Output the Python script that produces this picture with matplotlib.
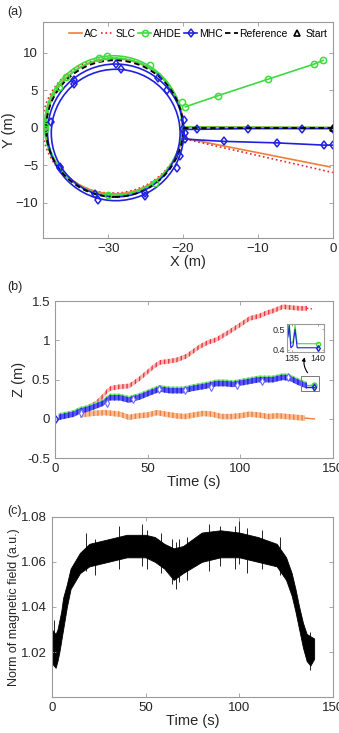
import numpy as np
import matplotlib.pyplot as plt
from matplotlib.patches import Ellipse, Rectangle

plt.rcParams['font.family'] = ['Liberation Sans', 'DejaVu Sans']

C_AC = '#EE7F3A'
C_SLC = '#E8282E'
C_AHDE = '#3DDC3D'
C_MHC = '#2020E0'
C_REF = 'black'
REF_DASH = (0, (3, 2))

## ================== (a) trajectories ================== ##
# loops read from the picture : (centre x, centre y, width, height)
ref_loops = [(-29.15, -0.1, 18.3, 18.2)]
ac_loops = [(-29.2, 0.2, 18.4, 18.0)]
slc_loops = [(-29.4, 0.3, 18.8, 18.0)]
ahde_loops = [(-29.3, 0.3, 18.4, 18.6), (-29.2, 0.15, 18.1, 18.3)]
mhc_loops = [(-29.0, -0.6, 18.2, 18.2), (-29.0, -0.7, 17.2, 17.0)]

# straight legs (out from start, back to the end)
ref_out_x = [0, -20]
ref_out_y = [0, 0]
ac_out_x = [0, -20]
ac_out_y = [0.05, 0.15]
ac_back_x = [-19.7, -0.4]
ac_back_y = [-1.4, -5.2]
slc_back_x = [-19.7, 0]
slc_back_y = [-1.5, -5.95]
ahde_out_x = [0, -20]
ahde_out_y = [0.05, 0.1]
ahde_back_x = [-19.7, -15.3, -8.6, -2.5, -1.3]
ahde_back_y = [2.8, 4.3, 6.5, 8.5, 9.0]
mhc_out_x = [0, -4.1, -11.3, -18.2, -20]
mhc_out_y = [-0.1, -0.1, -0.1, -0.2, -0.2]
mhc_back_x = [-19.7, -14.6, -7.5, -1.2, 0.0]
mhc_back_y = [-1.5, -1.8, -2.0, -2.3, -2.3]

# markers sitting on the loops
ahde_mk_x = [-38.4, -38.4, -36.6, -35.6, -31.2, -30.2, -24.4, -20.1, -30.0, -23.7]
ahde_mk_y = [0.2, -0.2, 5.5, 6.8, 9.3, 9.6, 8.4, 3.4, -8.9, -7.3]
mhc_mk_x = [-37.7, -34.6, -34.6, -28.9, -28.3, -23.4, -22.2, -36.5, -36.4, -31.7,
            -31.3, -25.1, -25.1, -20.8, -20.4, -19.9, -19.7]
mhc_mk_y = [0.8, 6.4, 5.8, 8.5, 7.8, 6.6, 5.1, -5.4, -5.2, -8.8,
            -9.6, -8.7, -9.1, -5.4, -3.8, 1.1, -0.7]

## ================== (b) altitude ================== ##
t_slc = [15, 17, 22, 26, 28, 30, 35, 40, 45, 49, 53, 56.5, 60, 65.5, 71, 78, 83, 87,
         92, 96, 100, 105, 110, 114, 118, 123, 127, 132, 136]
z_slc = [0.1, 0.14, 0.2, 0.29, 0.35, 0.39, 0.41, 0.42, 0.5, 0.58, 0.66, 0.72, 0.73,
         0.75, 0.8, 0.92, 0.98, 1.01, 1.08, 1.14, 1.2, 1.28, 1.31, 1.35, 1.38, 1.43,
         1.42, 1.41, 1.41]
t_slc_tail = [136, 140]
z_slc_tail = [1.41, 1.40]

t_mhc = [2, 6, 10, 13.5, 17, 20.6, 26, 29.6, 35, 40, 45.8, 51, 56.5, 62, 69, 74.5,
         81.7, 87, 92, 96, 103, 110, 117.6, 123, 126.6, 130, 133.8, 136]
z_mhc = [0.02, 0.04, 0.06, 0.1, 0.12, 0.15, 0.2, 0.27, 0.27, 0.24, 0.28, 0.33, 0.38,
         0.36, 0.36, 0.39, 0.42, 0.45, 0.45, 0.44, 0.47, 0.5, 0.5, 0.53, 0.52, 0.48,
         0.44, 0.42]
z_ahde_off = 0.018
t_mhc_mk = [14, 28, 42, 56, 70, 84, 98, 112, 126]
z_mhc_mk = [0.08, 0.2, 0.26, 0.38, 0.37, 0.41, 0.43, 0.48, 0.54]

t_ac = [13.5, 20, 27, 35, 40, 45, 50, 55, 60, 65, 70, 75, 80, 85, 90, 95, 100, 105,
        110, 115, 120, 125, 130, 135]
z_ac = [0.05, 0.07, 0.08, 0.06, 0.02, 0.04, 0.05, 0.08, 0.06, 0.04, 0.03, 0.05, 0.07,
        0.06, 0.03, 0.03, 0.04, 0.06, 0.05, 0.03, 0.04, 0.03, 0.02, 0.01]
t_ac_tail = [135, 140]
z_ac_tail = [0.01, 0.0]

# zoom window 134-141 s
t_zoom_b = [134.0, 134.3, 134.5, 134.8, 135.2, 135.6, 136.0, 136.4, 140.0]
z_zoom_b = [0.44, 0.47, 0.52, 0.41, 0.42, 0.50, 0.41, 0.41, 0.41]
t_zoom_g = [134.0, 134.3, 134.5, 134.8, 135.2, 135.6, 136.0, 136.4, 140.0]
z_zoom_g = [0.46, 0.49, 0.53, 0.43, 0.44, 0.52, 0.43, 0.43, 0.43]

## ================== (c) magnetic norm ================== ##
t_mag = [0, 2, 3, 4, 5, 6, 8, 10, 15, 20, 30, 40, 50, 55, 60, 65, 70, 80, 90, 100,
         110, 120, 125, 128, 130, 132, 134, 136, 138, 140]
mag_hi = [1.030, 1.028, 1.030, 1.034, 1.038, 1.044, 1.050, 1.057, 1.064, 1.068, 1.070,
          1.072, 1.072, 1.071, 1.068, 1.066, 1.067, 1.073, 1.074, 1.073, 1.071, 1.068,
          1.062, 1.055, 1.048, 1.040, 1.033, 1.028, 1.027, 1.026]
mag_lo = [1.015, 1.013, 1.016, 1.020, 1.025, 1.030, 1.040, 1.048, 1.055, 1.058, 1.060,
          1.062, 1.062, 1.060, 1.057, 1.052, 1.055, 1.060, 1.062, 1.062, 1.060, 1.058,
          1.052, 1.045, 1.038, 1.030, 1.022, 1.016, 1.014, 1.017]
spike_t = [1, 18, 23, 36, 48, 51, 58, 64, 66, 68, 72, 84, 90, 98, 100, 104, 112, 122, 138]
spike_lo = [1.016, 1.056, 1.054, 1.057, 1.058, 1.057, 1.055, 1.050, 1.048, 1.051,
            1.052, 1.056, 1.058, 1.057, 1.059, 1.055, 1.057, 1.054, 1.012]
spike_hi = [1.034, 1.073, 1.070, 1.076, 1.077, 1.074, 1.073, 1.070, 1.069, 1.070,
            1.071, 1.077, 1.076, 1.076, 1.078, 1.075, 1.074, 1.071, 1.029]


def matlab_axes(ax):
    for s in ax.spines.values():
        s.set_color('#9a9a9a')
        s.set_linewidth(0.8)
    ax.tick_params(direction='in', length=3, width=0.6, top=True, right=True,
                   colors='#9a9a9a', labelcolor='#262626', labelsize=9.5)


fig = plt.figure(figsize=(3.39, 7.33), dpi=100)

# ---------- (a)
ax = fig.add_axes([0.127, 0.675, 0.855, 0.295])
for cx, cy, w, h in slc_loops:
    ax.add_patch(Ellipse((cx, cy), w, h, fill=False, ec=C_SLC, ls=':', lw=1.2))
for cx, cy, w, h in ac_loops:
    ax.add_patch(Ellipse((cx, cy), w, h, fill=False, ec=C_AC, lw=1.2))
for cx, cy, w, h in ahde_loops:
    ax.add_patch(Ellipse((cx, cy), w, h, fill=False, ec=C_AHDE, lw=1.2))
for cx, cy, w, h in mhc_loops:
    ax.add_patch(Ellipse((cx, cy), w, h, fill=False, ec=C_MHC, lw=1.2))
for cx, cy, w, h in ref_loops:
    ax.add_patch(Ellipse((cx, cy), w, h, fill=False, ec=C_REF, ls=REF_DASH, lw=1.3))

ax.plot(ac_out_x, ac_out_y, color=C_AC, lw=1.2)
ax.plot(ahde_out_x, ahde_out_y, color=C_AHDE, lw=1.2)
ax.plot(ac_back_x, ac_back_y, color=C_AC, lw=1.2, label='AC')
ax.plot(slc_back_x, slc_back_y, color=C_SLC, ls=':', lw=1.2, label='SLC')
ax.plot(ahde_back_x, ahde_back_y, color=C_AHDE, lw=1.2, marker='o', ms=4.5,
        mfc='none', mew=1.1, label='AHDE')
ax.plot(ahde_mk_x, ahde_mk_y, ls='none', marker='o', ms=4.5, mfc='none', mec=C_AHDE, mew=1.1)
ax.plot(mhc_out_x, mhc_out_y, color=C_MHC, lw=1.2, marker='d', ms=4.5,
        mfc='none', mew=1.1, label='MHC')
ax.plot(mhc_back_x, mhc_back_y, color=C_MHC, lw=1.2, marker='d', ms=4.5, mfc='none', mew=1.1)
ax.plot([-20, -19.7], [-0.2, -1.5], color=C_MHC, lw=1.2)
ax.plot(mhc_mk_x, mhc_mk_y, ls='none', marker='d', ms=4.5, mfc='none', mec=C_MHC, mew=1.1)
ax.plot(ref_out_x, ref_out_y, color=C_REF, ls=REF_DASH, lw=1.3, label='Reference')
ax.plot([0], [0], ls='none', marker='^', ms=5, mfc='none', mec='black', mew=1.2, label='Start')

ax.set_xlim(-38.7, 0)
ax.set_ylim(-14.7, 14.1)
ax.set_xticks([-30, -20, -10, 0])
ax.set_yticks([-10, -5, 0, 5, 10])
ax.set_xlabel('X (m)', fontsize=10.5, labelpad=0, color='#262626')
ax.set_ylabel('Y (m)', fontsize=10.5, labelpad=0, color='#262626')
matlab_axes(ax)
ax.legend(loc='upper center', ncol=6, frameon=False, fontsize=7.5, handlelength=1.25,
          handletextpad=0.15, columnspacing=0.25, borderaxespad=0.25,
          bbox_to_anchor=(0.535, 1.0))
fig.text(0.02, 0.983, '(a)', fontsize=9, va='center', color='#262626')

# ---------- (b)
ax = fig.add_axes([0.162, 0.375, 0.82, 0.214])
hw = 0.03
ax.fill_between(t_slc, np.array(z_slc) - hw, np.array(z_slc) + hw, fc='#F7B0B0',
                ec=C_SLC, hatch='||||', lw=0, alpha=0.9)
ax.plot(t_slc_tail, z_slc_tail, color=C_SLC, ls=':', lw=1.0)
ax.fill_between(t_ac, np.array(z_ac) - 0.035, np.array(z_ac) + 0.035, fc='#F7C09A',
                ec=C_AC, hatch='||||', lw=0)
ax.plot(t_ac_tail, z_ac_tail, color=C_AC, lw=1.0)
zg = np.array(z_mhc) + z_ahde_off
ax.fill_between(t_mhc, zg - 0.035, zg + 0.035, fc='#8FE88F', ec=C_AHDE, hatch='||||', lw=0)
ax.fill_between(t_mhc, np.array(z_mhc) - 0.035, np.array(z_mhc) + 0.035, fc='#5A5AF0',
                ec=C_MHC, hatch='||||', lw=0)
ax.plot(t_mhc_mk, z_mhc_mk, ls='none', marker='d', ms=4, mfc='white', mec='#6a6aff', mew=0.8)
ax.plot([0], [0], ls='none', marker='d', ms=4.5, mfc='none', mec=C_MHC, mew=1.0)
ax.plot([136, 140], [0.43, 0.43], color=C_AHDE, lw=1.0, marker='o', ms=3.5, mfc='none',
        markevery=[1])
ax.plot([136, 140], [0.41, 0.41], color=C_MHC, lw=1.0, marker='d', ms=3.5, mfc='none',
        markevery=[1])
ax.add_patch(Rectangle((133, 0.36), 9.4, 0.19, fill=False, ec='#777777', lw=0.7))
ax.annotate('', xy=(135.2, 0.82), xytext=(137.3, 0.56),
            arrowprops=dict(arrowstyle='-|>', color='black', lw=0.8, mutation_scale=5,
                            connectionstyle='arc3,rad=-0.3'))
ax.set_xlim(0, 150)
ax.set_ylim(-0.5, 1.5)
ax.set_xticks([0, 50, 100, 150])
ax.set_yticks([-0.5, 0, 0.5, 1, 1.5])
ax.set_yticklabels(['-0.5', '0', '0.5', '1', '1.5'])
ax.set_xlabel('Time (s)', fontsize=10.5, labelpad=0, color='#262626')
ax.set_ylabel('Z (m)', fontsize=10.5, labelpad=1, color='#262626')
matlab_axes(ax)
fig.text(0.02, 0.608, '(b)', fontsize=9, va='center', color='#262626')

ins = fig.add_axes([0.847, 0.520, 0.109, 0.038])
ins.plot(t_zoom_g, z_zoom_g, color=C_AHDE, lw=0.8, marker='o', ms=3, mfc='none',
         markevery=[len(t_zoom_g) - 1])
ins.plot(t_zoom_b, z_zoom_b, color=C_MHC, lw=0.8, marker='d', ms=3, mfc='none',
         markevery=[len(t_zoom_b) - 1])
ins.set_xlim(134.1, 141.1)
ins.set_ylim(0.39, 0.527)
ins.set_xticks([135, 140])
ins.set_yticks([0.4, 0.5])
matlab_axes(ins)
ins.tick_params(labelsize=6.5, length=1.5, pad=1.5)

# ---------- (c)
ax = fig.add_axes([0.153, 0.049, 0.829, 0.246])
ax.fill_between(t_mag, mag_lo, mag_hi, color='black', lw=0.6)
ax.vlines(spike_t, spike_lo, spike_hi, color='black', lw=0.6)
ax.set_xlim(0, 150)
ax.set_ylim(1.0, 1.08)
ax.set_xticks([0, 50, 100, 150])
ax.set_yticks([1.02, 1.04, 1.06, 1.08])
ax.set_xlabel('Time (s)', fontsize=10.5, labelpad=0, color='#262626')
ax.set_ylabel('Norm of magnetic field (a.u.)', fontsize=9, labelpad=1, color='#262626')
matlab_axes(ax)
fig.text(0.02, 0.303, '(c)', fontsize=9, va='center', color='#262626')

plt.savefig('out.png', dpi=100)
plt.close()
